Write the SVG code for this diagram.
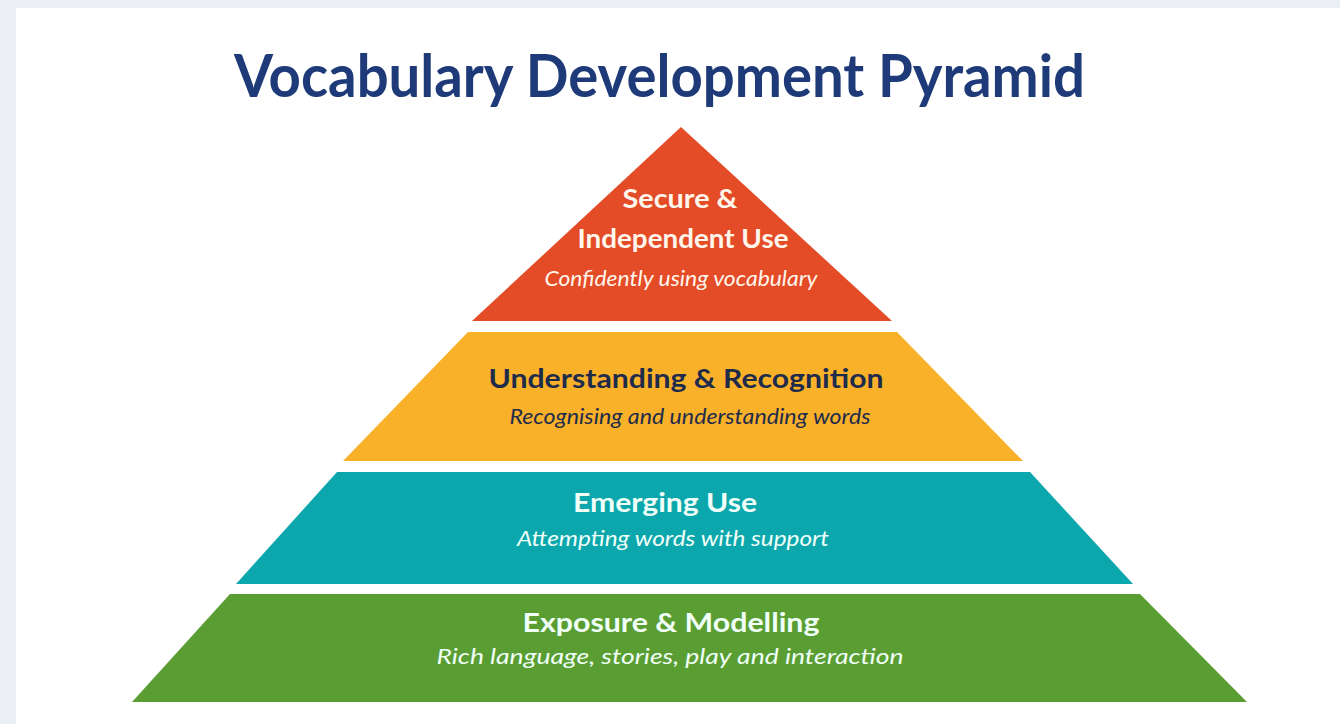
<svg xmlns="http://www.w3.org/2000/svg" width="1340" height="724" viewBox="0 0 1340 724">
  <style>
    .title { font-family: Lato, "Open Sans", "Liberation Sans", sans-serif; font-weight: 700; font-size: 60px; fill: #1E3A78; }
    .head { font-family: Lato, "Open Sans", "Liberation Sans", sans-serif; font-weight: 700; font-size: 26px; text-anchor: middle; }
    .sub { font-family: Lato, "Open Sans", "Liberation Sans", sans-serif; font-style: italic; font-size: 22px; text-anchor: middle; }
    .light { fill: #FFF7EC; }
    .cool { fill: #F0FFF8; }
    .dark { fill: #1F2B4A; }
  </style>

  <!-- page frame -->
  <rect x="0" y="0" width="1340" height="724" fill="#EBEFF3"/>
  <rect x="16" y="8" width="1324" height="716" fill="#FFFFFF"/>

  <text class="title" x="234" y="97" textLength="851" lengthAdjust="spacingAndGlyphs">Vocabulary Development Pyramid</text>

  <!-- tier 1: top -->
  <g id="tier-secure">
    <polygon points="681,127 892,321 472,321" fill="#E44B27"/>
    <text class="head light" x="680" y="208" textLength="115" lengthAdjust="spacingAndGlyphs">Secure &amp;</text>
    <text class="head light" x="683" y="248" textLength="211" lengthAdjust="spacingAndGlyphs">Independent Use</text>
    <text class="sub light" x="681" y="286" textLength="273" lengthAdjust="spacingAndGlyphs">Confidently using vocabulary</text>
  </g>

  <!-- tier 2 -->
  <g id="tier-understanding">
    <polygon points="468,332 897,332 1023,461 343,461" fill="#F9B12A"/>
    <text class="head dark" x="686" y="388" textLength="395" lengthAdjust="spacingAndGlyphs">Understanding &amp; Recognition</text>
    <text class="sub dark" x="690" y="424" textLength="361" lengthAdjust="spacingAndGlyphs">Recognising and understanding words</text>
  </g>

  <!-- tier 3 -->
  <g id="tier-emerging">
    <polygon points="337,472 1030,472 1133,584 236,584" fill="#0BA7AD"/>
    <text class="head cool" x="665" y="512" textLength="184" lengthAdjust="spacingAndGlyphs">Emerging Use</text>
    <text class="sub cool" x="673" y="546" textLength="312" lengthAdjust="spacingAndGlyphs">Attempting words with support</text>
  </g>

  <!-- tier 4: base -->
  <g id="tier-exposure">
    <polygon points="230,594 1140,594 1247,702 132,702" fill="#5A9E33"/>
    <text class="head cool" x="671" y="632" textLength="297" lengthAdjust="spacingAndGlyphs">Exposure &amp; Modelling</text>
    <text class="sub cool" x="670" y="664" textLength="467" lengthAdjust="spacingAndGlyphs">Rich language, stories, play and interaction</text>
  </g>

  <g id="connectors"/>
</svg>
